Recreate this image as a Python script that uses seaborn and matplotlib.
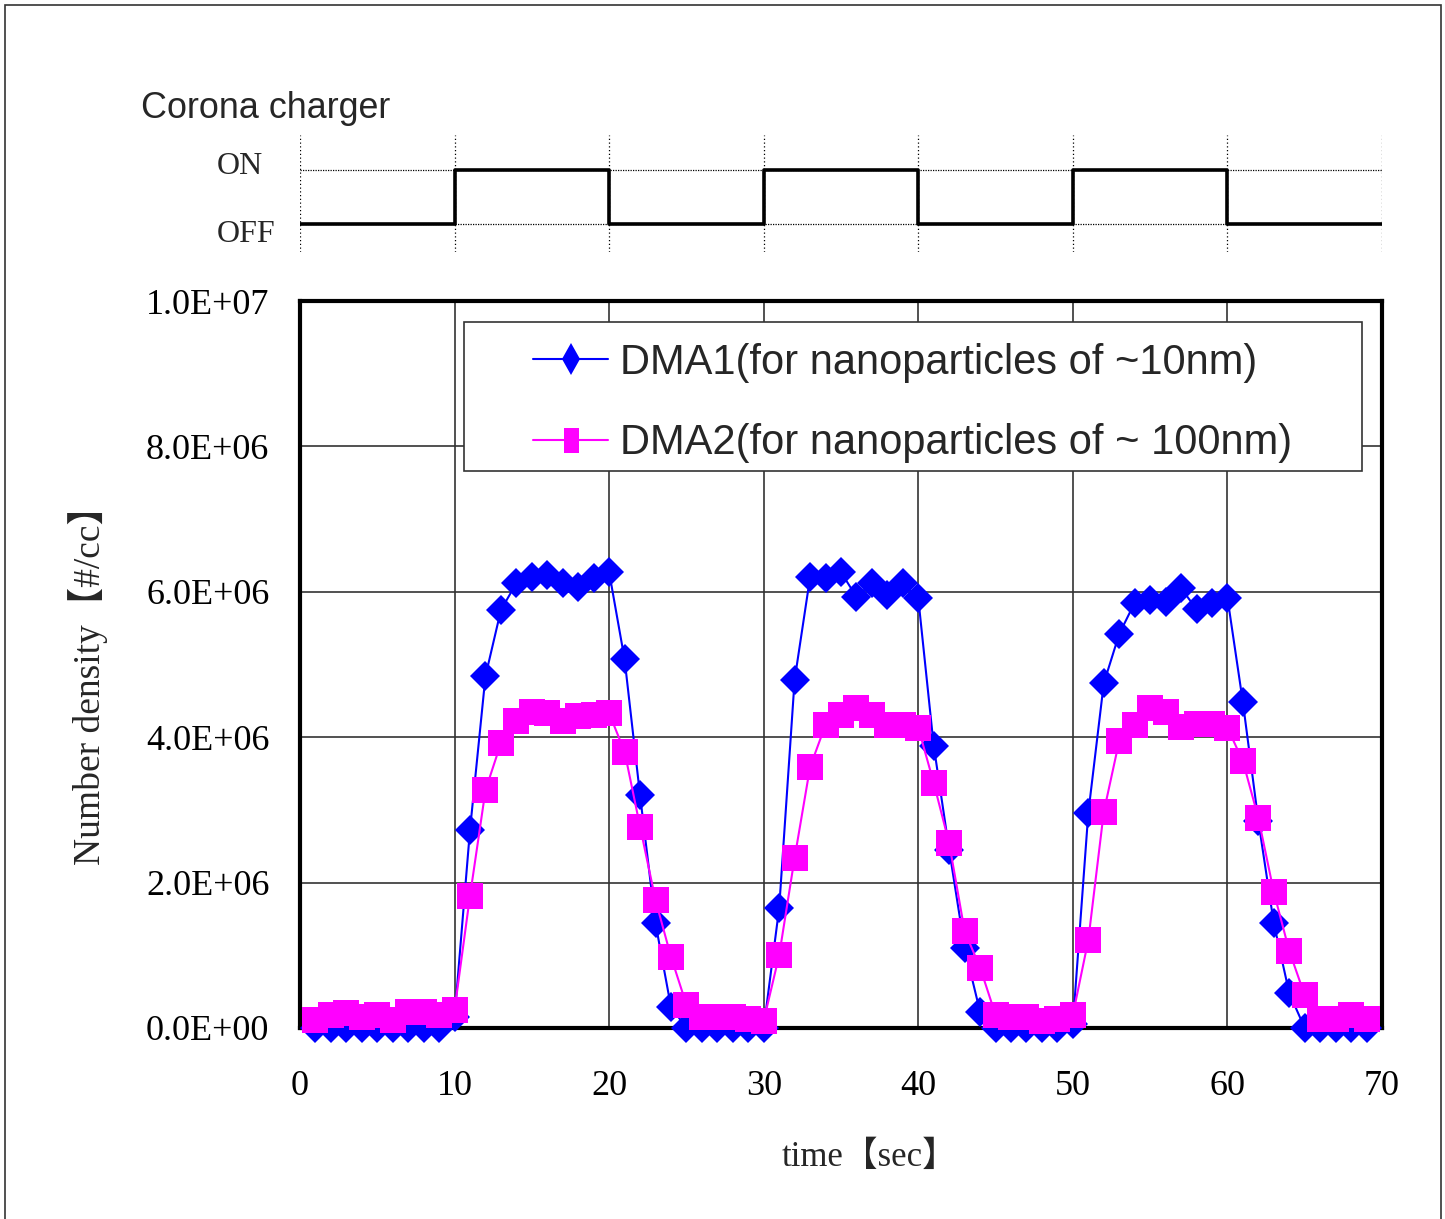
import numpy as np
import pandas as pd
import matplotlib
matplotlib.use("Agg")
import matplotlib.pyplot as plt
import seaborn as sns
from matplotlib.patches import Rectangle
from matplotlib.lines import Line2D
from matplotlib.path import Path
from matplotlib.ticker import FuncFormatter

# ---------------- data ----------------
time_sec = list(range(1, 70))
# number density, units of 1e6 #/cc
dma1 = [0, 0, 0, 0, 0, 0, 0, 0, 0, 0.15,
        2.73, 4.84, 5.75, 6.12, 6.20, 6.23, 6.12, 6.07, 6.19, 6.27,
        5.07, 3.20, 1.44, 0.29, 0, 0, 0, 0, 0, 0,
        1.65, 4.79, 6.20, 6.19, 6.27, 5.93, 6.12, 5.96, 6.12, 5.91,
        3.88, 2.45, 1.10, 0.22, 0, 0, 0, 0, 0, 0.05,
        2.96, 4.74, 5.42, 5.85, 5.89, 5.86, 6.05, 5.76, 5.85, 5.92,
        4.48, 2.85, 1.44, 0.48, 0, 0, 0, 0, 0]
dma2 = [0.11, 0.18, 0.20, 0.15, 0.18, 0.11, 0.22, 0.22, 0.18, 0.25,
        1.82, 3.27, 3.92, 4.22, 4.35, 4.33, 4.22, 4.29, 4.30, 4.33,
        3.80, 2.77, 1.76, 0.98, 0.32, 0.15, 0.15, 0.15, 0.12, 0.10,
        1.00, 2.34, 3.59, 4.17, 4.30, 4.40, 4.30, 4.17, 4.17, 4.13,
        3.37, 2.54, 1.33, 0.83, 0.18, 0.15, 0.15, 0.10, 0.12, 0.18,
        1.21, 2.97, 3.95, 4.17, 4.40, 4.35, 4.14, 4.18, 4.18, 4.13,
        3.67, 2.89, 1.87, 1.06, 0.45, 0.12, 0.12, 0.18, 0.12]
charger_time = [0, 10, 20, 30, 40, 50, 60, 70]
charger_state = [0, 1, 0, 1, 0, 1, 0, 0]
x_ticks = [0, 10, 20, 30, 40, 50, 60, 70]
y_ticks = [0, 2e6, 4e6, 6e6, 8e6, 1e7]
state_labels = ["ON", "OFF"]
label_dma1 = "DMA1(for nanoparticles of ~10nm)"
label_dma2 = "DMA2(for nanoparticles of ~ 100nm)"
title_top = "Corona charger"
x_label = "time【sec】"
y_label = "Number density【#/cc】"

# ---------------- style ----------------
sns.set_style("white")
serif = ["Liberation Serif", "Noto Sans CJK JP"]
sans = ["Liberation Sans", "DejaVu Sans"]
plt.rcParams["font.family"] = serif

W, H = 1445, 1219
fig = plt.figure(figsize=(W / 100, H / 100), dpi=100)

def fx(px):
    return px / W

def fy(py):
    return 1 - py / H

# ---------------- main axes ----------------
ax = fig.add_axes([fx(300), fy(1028), fx(1382) - fx(300), fy(301) - fy(1028)])
blue = "#0000FF"
mag = "#FF00FF"

df1 = pd.DataFrame({"t": time_sec, "v": np.array(dma1) * 1e6})
df2 = pd.DataFrame({"t": time_sec, "v": np.array(dma2) * 1e6})
sns.lineplot(data=df1, x="t", y="v", ax=ax, color=blue, marker="D", markersize=14.8,
             markeredgewidth=0, linewidth=1.5, errorbar=None, clip_on=False, zorder=4)
sns.lineplot(data=df2, x="t", y="v", ax=ax, color=mag, marker="s", markersize=18.5,
             markeredgewidth=0, linewidth=1.5, errorbar=None, clip_on=False, zorder=4)

ax.set_xlim(0, 70)
ax.set_ylim(0, 1e7)
ax.set_xticks(x_ticks)
ax.set_yticks(y_ticks)
ax.yaxis.set_major_formatter(FuncFormatter(lambda v, p: f"{v:.1E}"))
ax.grid(True, color="#333333", linewidth=1.2)
ax.tick_params(axis="both", direction="in", length=9, width=1.2, labelsize=26, colors="black")
ax.tick_params(axis="x", pad=30)
ax.tick_params(axis="y", pad=22)
ax.set_xlabel("")
ax.set_ylabel("")
for s in ax.spines.values():
    s.set_linewidth(3)
    s.set_color("black")
    s.set_visible(True)

# legend box
ax.add_patch(Rectangle(((464 - 300) / 1082, 1 - (471 - 301) / 727), (1362 - 464) / 1082,
                       (471 - 322) / 727, transform=ax.transAxes, facecolor="white",
                       edgecolor="#333333", linewidth=1.2, zorder=5))
sq = Path([(-0.3, -0.5), (0.3, -0.5), (0.3, 0.5), (-0.3, 0.5), (-0.3, -0.5)])
h1 = Line2D([], [], color=blue, marker="d", markersize=15.8, markeredgewidth=0, linewidth=1.5)
h2 = Line2D([], [], color=mag, marker=sq, markersize=18, markeredgewidth=0, linewidth=1.5)
leg = ax.legend([h1, h2], [label_dma1, label_dma2], loc="upper left",
                bbox_to_anchor=((533 - 300) / 1082, 1 - (343 - 301) / 727),
                frameon=False, borderpad=0, borderaxespad=0, handlelength=1.8,
                handletextpad=0.3, labelspacing=0.97,
                prop={"family": sans, "size": 30})
leg.set_zorder(6)

fig.text(fx(870), fy(1157), x_label, ha="center", va="center", fontsize=25, family=serif)
fig.text(fx(88), fy(676), y_label, ha="center", va="center", rotation=90, fontsize=27, family=serif)

# ---------------- top panel (corona charger state) ----------------
ax2 = fig.add_axes([fx(300), fy(252), fx(1382) - fx(300), fy(135) - fy(252)])
ax2.set_xlim(0, 70)
ax2.set_ylim(-(252 - 224) / 54, 1 + (170 - 135) / 54)
for s in ax2.spines.values():
    s.set_visible(False)
ax2.set_xticks([])
ax2.set_yticks([])
for xv in x_ticks:
    ax2.axvline(xv, color="black", linestyle=(0, (1, 2)), linewidth=0.9)
for yv in [0, 1]:
    ax2.axhline(yv, color="black", linestyle=(0, (1, 1)), linewidth=0.9)
dfc = pd.DataFrame({"t": charger_time, "s": charger_state})
sns.lineplot(data=dfc, x="t", y="s", ax=ax2, color="black", linewidth=2.6,
             drawstyle="steps-post", errorbar=None, estimator=None, zorder=3)
ax2.set_xlabel("")
ax2.set_ylabel("")
ax2.patch.set_alpha(0)

fig.text(fx(217), fy(166), state_labels[0], ha="left", va="center", fontsize=23, family=serif)
fig.text(fx(217), fy(234), state_labels[1], ha="left", va="center", fontsize=23, family=serif)
fig.text(fx(141), fy(109), title_top, ha="left", va="center", fontsize=25.8, family=sans)

# outer border
fig.add_artist(Rectangle((fx(5), -0.01), fx(1441) - fx(5), fy(5) + 0.01,
                         transform=fig.transFigure, fill=False, edgecolor="#333333",
                         linewidth=1.2))

fig.savefig("out.png", dpi=100)
